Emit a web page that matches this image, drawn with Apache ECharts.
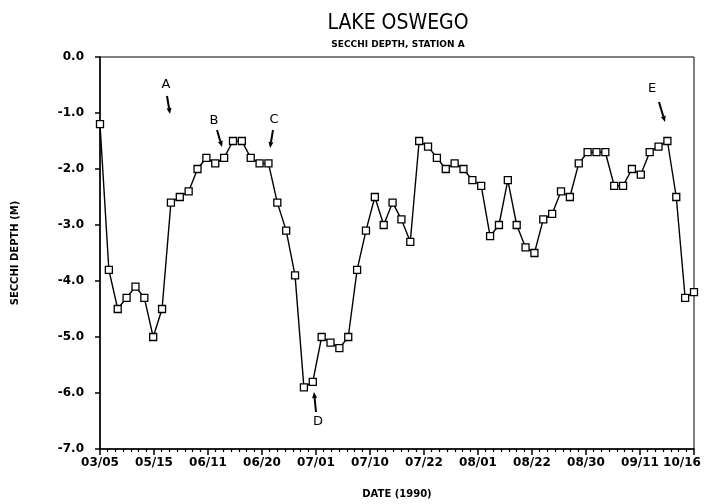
<!DOCTYPE html>
<html>
<head>
<meta charset="utf-8">
<script src="https://cdn.jsdelivr.net/npm/echarts@6/dist/echarts.min.js"></script>
<style>
  html, body { margin: 0; padding: 0; background: #fff; }
  #chart { width: 704px; height: 504px; }
</style>
</head>
<body>
<div id="chart"></div>
<script>
// secchi depth readings (m), one per sampling trip, in order
var depths = [
    -1.2, -3.8, -4.5, -4.3, -4.1, -4.3, -5.0, -4.5, -2.6, -2.5,
    -2.4, -2.0, -1.8, -1.9, -1.8, -1.5, -1.5, -1.8, -1.9, -1.9,
    -2.6, -3.1, -3.9, -5.9, -5.8, -5.0, -5.1, -5.2, -5.0, -3.8,
    -3.1, -2.5, -3.0, -2.6, -2.9, -3.3, -1.5, -1.6, -1.8, -2.0,
    -1.9, -2.0, -2.2, -2.3, -3.2, -3.0, -2.2, -3.0, -3.4, -3.5,
    -2.9, -2.8, -2.4, -2.5, -1.9, -1.7, -1.7, -1.7, -2.3, -2.3,
    -2.0, -2.1, -1.7, -1.6, -1.5, -2.5, -4.3, -4.2
];
// sample numbers for the category axis
var samples = depths.map(function(d, i) { return i + 1; });
// date labels along the bottom axis
var dateLabels = ['03/05', '05/15', '06/11', '06/20', '07/01', '07/10',
                  '07/22', '08/01', '08/22', '08/30', '09/11', '10/16'];

var FONT = 'DejaVu Sans';

// little arrow as a line + filled head (pixel positions, annotation only)
function arrow(x1, y1, x2, y2) {
    var dx = x2 - x1, dy = y2 - y1;
    var len = Math.sqrt(dx * dx + dy * dy);
    var ux = dx / len, uy = dy / len;
    var hl = 6, hw = 2.5;
    var bx = x2 - ux * hl, by = y2 - uy * hl;
    return [
        { type: 'line', shape: { x1: x1, y1: y1, x2: bx, y2: by },
          style: { stroke: '#000', lineWidth: 2 } },
        { type: 'polygon', shape: { points: [[x2, y2], [bx - uy * hw, by + ux * hw], [bx + uy * hw, by - ux * hw]] },
          style: { fill: '#000' } }
    ];
}
function letter(t, x, y) {
    return { type: 'text', x: x, y: y,
             style: { text: t, font: '13px ' + FONT, fill: '#000', textAlign: 'center', textVerticalAlign: 'middle' } };
}

var graphics = [].concat(
    letter('A', 166, 85), arrow(167, 96, 170, 114),
    letter('B', 214, 121), arrow(217, 130, 222, 147),
    letter('C', 274, 120), arrow(273, 130, 270, 148),
    letter('D', 318, 422), arrow(316, 412, 314, 392),
    letter('E', 652, 89), arrow(659, 102, 665, 122)
);

var chart = echarts.init(document.getElementById('chart'));
chart.setOption({
    animation: false,
    backgroundColor: '#fff',
    title: {
        text: 'LAKE OSWEGO',
        subtext: 'SECCHI DEPTH, STATION A',
        left: 393,
        top: 8,
        textAlign: 'center',
        itemGap: 6,
        textStyle: { fontFamily: '"Liberation Sans Narrow", "DejaVu Sans Condensed", sans-serif', fontSize: 21, fontWeight: 'normal', color: '#000' },
        subtextStyle: { fontFamily: FONT, fontSize: 9, fontWeight: 'bold', color: '#000' }
    },
    grid: {
        left: 100, right: 10, top: 57, bottom: 55,
        containLabel: false,
        outerBoundsMode: 'none',
        show: true, borderColor: '#000', borderWidth: 1
    },
    xAxis: [
        {
            type: 'category',
            data: samples,
            boundaryGap: false,
            show: false
        },
        {
            type: 'value',
            position: 'bottom',
            min: 0, max: 11, interval: 1,
            name: 'DATE (1990)',
            nameLocation: 'middle',
            nameGap: 40,
            nameTextStyle: { fontFamily: FONT, fontSize: 10, fontWeight: 'bold', color: '#000' },
            axisLine: { lineStyle: { color: '#000', width: 1.5 } },
            axisTick: { inside: false, length: 6, lineStyle: { color: '#000', width: 1.5 } },
            minorTick: { show: true, splitNumber: 7, length: 3, lineStyle: { color: '#000', width: 1.2 } },
            splitLine: { show: false },
            axisLabel: {
                margin: 8,
                showMinLabel: true,
                showMaxLabel: true,
                hideOverlap: false,
                fontFamily: FONT, fontSize: 12, fontWeight: 'bold', color: '#000',
                formatter: function(v) {
                    var i = Math.round(v);
                    return i === dateLabels.length - 1 ? '{last|' + dateLabels[i] + '}' : dateLabels[i];
                },
                rich: {
                    last: { fontFamily: FONT, fontSize: 12, fontWeight: 'bold', color: '#000', padding: [0, 24, 0, 0] }
                }
            }
        }
    ],
    yAxis: {
        type: 'value',
        min: -7, max: 0, interval: 1,
        name: 'SECCHI DEPTH (M)',
        nameLocation: 'middle',
        nameGap: 80,
        nameTextStyle: { fontFamily: FONT, fontSize: 10, fontWeight: 'bold', color: '#000' },
        axisLine: { show: true, lineStyle: { color: '#000', width: 1.5 } },
        axisTick: { show: true, length: 5, lineStyle: { color: '#000', width: 1.5 } },
        splitLine: { show: false },
        axisLabel: {
            margin: 16,
            fontFamily: FONT, fontSize: 12, fontWeight: 'bold', color: '#000',
            formatter: function(v) { return v.toFixed(1); }
        }
    },
    series: [
        {
            type: 'line',
            xAxisIndex: 0,
            data: depths,
            symbol: 'rect',
            symbolSize: 7,
            showAllSymbol: true,
            lineStyle: { color: '#000', width: 1.4 },
            itemStyle: { color: '#fff', borderColor: '#000', borderWidth: 1.3 }
        }
    ],
    graphic: graphics
});
</script>
</body>
</html>
